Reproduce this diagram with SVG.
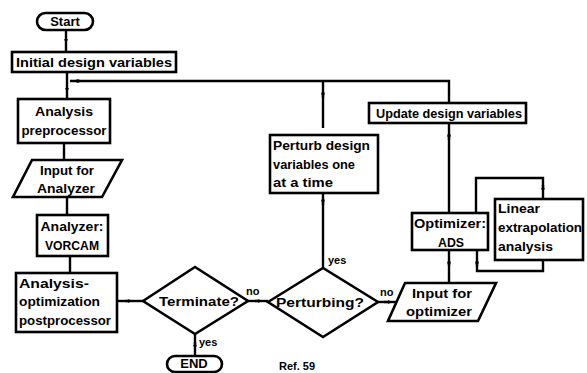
<svg xmlns="http://www.w3.org/2000/svg" width="587" height="373" viewBox="0 0 587 373">
<style>
.b{fill:#fff;stroke:#000;stroke-width:2.6}
.c{fill:none;stroke:#000;stroke-width:2.4}
text{font-family:"Liberation Sans",Arial,sans-serif;font-weight:bold;font-size:13px;fill:#000}
.m{text-anchor:middle}
.s{font-size:11px}
</style>
<defs>
<marker id="a" viewBox="0 0 10 10" refX="5" refY="5" markerWidth="5" markerHeight="5" orient="auto-start-reverse" markerUnits="userSpaceOnUse">
<path d="M0,1 L10,5 L0,9 Z" fill="#000"/>
</marker>
</defs>
<rect width="587" height="373" fill="#fff"/>
<g id="connectors">
<path class="c" d="M66,30 V52"/>
<path class="c" d="M66,40 V41" marker-end="url(#a)"/>
<path class="c" d="M67,72 V99"/>
<path class="c" d="M67,88 V90" marker-end="url(#a)"/>
<path class="c" d="M449,103 V81 H70"/>
<path class="c" d="M80,81 H76" marker-end="url(#a)"/>
<path class="c" d="M64,143 V160"/>
<path class="c" d="M67,197 V215"/>
<path class="c" d="M70,256 V273"/>
<path class="c" d="M117,301 H143"/>
<path class="c" d="M125,301 H130" marker-end="url(#a)"/>
<path class="c" d="M248,301 H268"/>
<path class="c" d="M255,301 H260" marker-end="url(#a)"/>
<path class="c" d="M195,333 V356"/>
<path class="c" d="M195,342 V347" marker-end="url(#a)"/>
<path class="c" d="M323,268 V193"/>
<path class="c" d="M323,128 V81"/>
<path class="c" d="M323,205 V199" marker-end="url(#a)"/>
<path class="c" d="M323,98 V92" marker-end="url(#a)"/>
<path class="c" d="M378,302 H397"/>
<path class="c" d="M384,302 H390" marker-end="url(#a)"/>
<path class="c" d="M449,283 V250"/>
<path class="c" d="M449,266 V261" marker-end="url(#a)"/>
<path class="c" d="M449,213 V123"/>
<path class="c" d="M449,140 V134" marker-end="url(#a)"/>
<path class="c" d="M476,213 V178 H543 V199"/>
<path class="c" d="M543,185 V190" marker-end="url(#a)"/>
<path class="c" d="M543,260 V271 H477 V250"/>
<path class="c" d="M477,266 V261" marker-end="url(#a)"/>
</g>
<g id="start"><rect class="b" x="37" y="13" width="56" height="17" rx="8.5"/><text class="m" x="65" y="26">Start</text></g>
<g id="initial"><rect class="b" x="12" y="52" width="164" height="20"/><text class="m" x="94" y="67" textLength="156" lengthAdjust="spacingAndGlyphs">Initial design variables</text></g>
<g id="preproc"><rect class="b" x="18" y="99" width="92" height="44"/><text class="m" x="64" y="116" textLength="58" lengthAdjust="spacingAndGlyphs">Analysis</text><text class="m" x="64" y="135" textLength="85" lengthAdjust="spacingAndGlyphs">preprocessor</text></g>
<g id="inputAnalyzer"><polygon class="b" points="32,160 122,160 102,197 13,197"/><text class="m" x="67" y="175" textLength="54" lengthAdjust="spacingAndGlyphs">Input for</text><text class="m" x="66" y="193" textLength="58" lengthAdjust="spacingAndGlyphs">Analyzer</text></g>
<g id="analyzer"><rect class="b" x="37" y="215" width="71" height="41"/><text class="m" x="72" y="231" textLength="63" lengthAdjust="spacingAndGlyphs">Analyzer:</text><text class="m" x="72" y="250" textLength="54" lengthAdjust="spacingAndGlyphs">VORCAM</text></g>
<g id="postproc"><rect class="b" x="16" y="273" width="101" height="59"/><text x="19" y="288" textLength="70" lengthAdjust="spacingAndGlyphs">Analysis-</text><text x="19" y="306" textLength="81" lengthAdjust="spacingAndGlyphs">optimization</text><text x="19" y="325" textLength="92" lengthAdjust="spacingAndGlyphs">postprocessor</text></g>
<g id="terminate"><polygon class="b" points="143,301 195,267 248,301 195,334"/><text class="m" x="199" y="306" textLength="80" lengthAdjust="spacingAndGlyphs">Terminate?</text></g>
<g id="perturbing"><polygon class="b" points="268,302 323,268 378,302 323,337"/><text class="m" x="320" y="307" textLength="88" lengthAdjust="spacingAndGlyphs">Perturbing?</text></g>
<g id="perturb"><rect class="b" x="270" y="135" width="108" height="58"/><text x="273" y="150" textLength="97" lengthAdjust="spacingAndGlyphs">Perturb design</text><text x="273" y="169" textLength="82" lengthAdjust="spacingAndGlyphs">variables one</text><text x="273" y="187" textLength="60" lengthAdjust="spacingAndGlyphs">at a time</text></g>
<g id="update"><rect class="b" x="369" y="103" width="157" height="20"/><text class="m" x="449" y="118" textLength="146" lengthAdjust="spacingAndGlyphs">Update design variables</text></g>
<g id="optimizer"><rect class="b" x="412" y="213" width="76" height="37"/><text class="m" x="450" y="228" textLength="72" lengthAdjust="spacingAndGlyphs">Optimizer:</text><text class="m" x="451" y="247" textLength="26" lengthAdjust="spacingAndGlyphs">ADS</text></g>
<g id="linear"><rect class="b" x="495" y="199" width="88" height="61"/><text x="498" y="213" textLength="42" lengthAdjust="spacingAndGlyphs">Linear</text><text x="498" y="232" textLength="84" lengthAdjust="spacingAndGlyphs">extrapolation</text><text x="498" y="251" textLength="55" lengthAdjust="spacingAndGlyphs">analysis</text></g>
<g id="inputOpt"><polygon class="b" points="405,283 496,283 478,321 388,321"/><text class="m" x="442" y="298" textLength="60" lengthAdjust="spacingAndGlyphs">Input for</text><text class="m" x="439" y="316" textLength="66" lengthAdjust="spacingAndGlyphs">optimizer</text></g>
<g id="end"><rect class="b" x="167" y="356" width="55" height="16" rx="8"/><text class="m" x="194" y="368">END</text></g>
<g id="labels">
<text class="s" x="246" y="295">no</text>
<text class="s" x="328" y="264">yes</text>
<text class="s" x="380" y="296">no</text>
<text class="s" x="199" y="346">yes</text>
<text class="s" x="279" y="370">Ref. 59</text>
</g>
</svg>
